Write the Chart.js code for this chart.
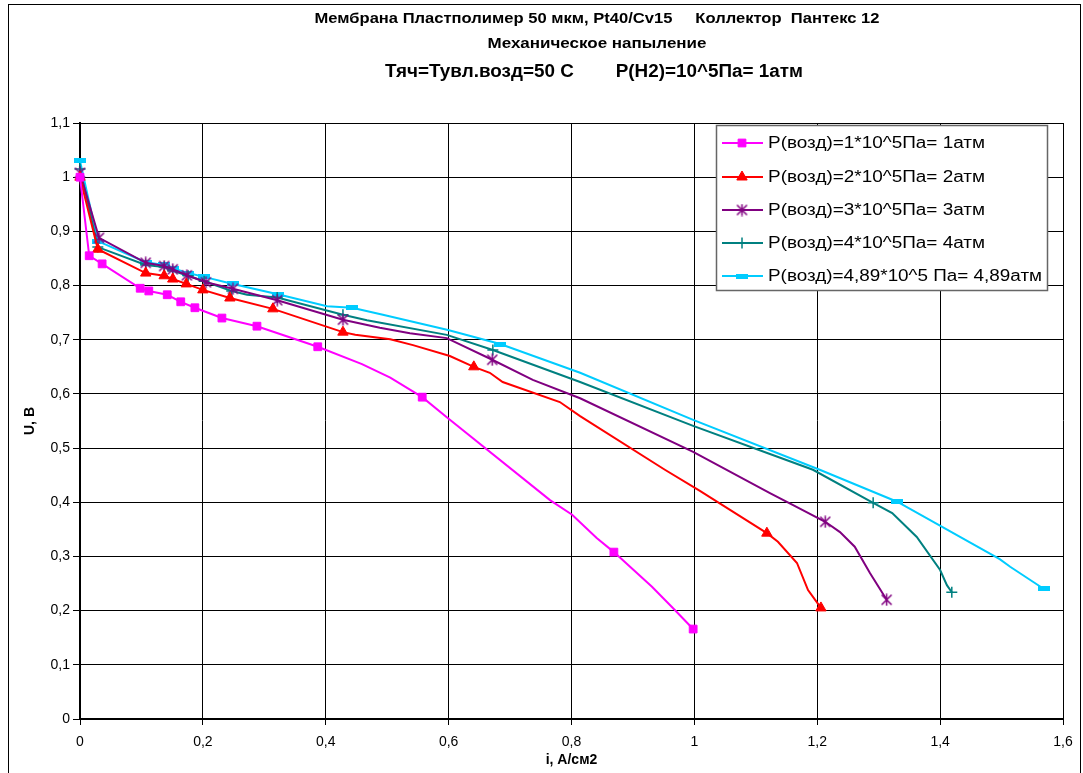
<!DOCTYPE html>
<html><head><meta charset="utf-8">
<script src="https://cdn.jsdelivr.net/npm/chart.js@4.4.0/dist/chart.umd.min.js"></script>
<style>html,body{margin:0;padding:0;background:#fff;}#wrap{width:1083px;height:773px;}</style>
</head><body><div id="wrap"><canvas id="c" width="1083" height="773"></canvas></div>
<script>
// ---- text ----
const titleLine1 = 'Мембрана Пластполимер 50 мкм, Pt40/Cv15     Коллектор  Пантекс 12';
const titleLine2 = 'Механическое напыление';
const titleLine3 = 'Тяч=Тувл.возд=50 С        P(H2)=10^5Па= 1атм';
const xAxisTitle = 'i, А/см2';
const yAxisTitle = 'U, В';
const seriesNames = [
  'P(возд)=1*10^5Па= 1атм',
  'P(возд)=2*10^5Па= 2атм',
  'P(возд)=3*10^5Па= 3атм',
  'P(возд)=4*10^5Па= 4атм',
  'P(возд)=4,89*10^5 Па= 4,89атм'
];
const xTickLabels = ['0','0,2','0,4','0,6','0,8','1','1,2','1,4','1,6'];
const yTickLabels = ['0','0,1','0,2','0,3','0,4','0,5','0,6','0,7','0,8','0,9','1','1,1'];

// ---- data (i, U, marker flag) ----
const p1X = [0, 0.015, 0.036, 0.098, 0.112, 0.142, 0.164, 0.187, 0.231, 0.288, 0.387, 0.459, 0.505, 0.557, 0.597, 0.765, 0.801, 0.841, 0.869, 0.931, 0.965, 0.998];
const p1Y = [1.0, 0.855, 0.840, 0.795, 0.790, 0.783, 0.770, 0.759, 0.740, 0.725, 0.687, 0.655, 0.630, 0.594, 0.557, 0.404, 0.377, 0.334, 0.308, 0.244, 0.205, 0.166];
const p1M = [1,1,1,1,1,1,1,1,1,1,1,0,0,1,0,0,0,0,1,0,0,1];

const p2X = [0, 0.029, 0.107, 0.137, 0.151, 0.173, 0.200, 0.244, 0.314, 0.428, 0.448, 0.505, 0.542, 0.602, 0.641, 0.667, 0.688, 0.781, 0.814, 0.952, 1.009, 1.118, 1.136, 1.167, 1.185, 1.206];
const p2Y = [1.0, 0.867, 0.823, 0.818, 0.812, 0.803, 0.792, 0.777, 0.757, 0.714, 0.709, 0.701, 0.690, 0.670, 0.650, 0.639, 0.622, 0.585, 0.559, 0.460, 0.421, 0.343, 0.327, 0.288, 0.238, 0.205];
const p2M = [1,1,1,1,1,1,1,1,1,1,0,0,0,0,1,0,0,0,0,0,0,1,0,0,0,1];

const p3X = [0, 0.031, 0.107, 0.137, 0.151, 0.174, 0.205, 0.249, 0.321, 0.428, 0.488, 0.537, 0.597, 0.671, 0.737, 0.814, 0.998, 1.123, 1.167, 1.213, 1.237, 1.261, 1.286, 1.313];
const p3Y = [1.008, 0.888, 0.842, 0.836, 0.830, 0.819, 0.806, 0.794, 0.773, 0.737, 0.722, 0.712, 0.703, 0.663, 0.626, 0.592, 0.493, 0.417, 0.391, 0.364, 0.345, 0.318, 0.269, 0.220];
const p3M = [1,1,1,1,1,1,1,1,1,1,0,0,0,1,0,0,0,0,0,1,0,0,0,1];

const p4X = [0, 0.029, 0.107, 0.137, 0.151, 0.176, 0.202, 0.247, 0.272, 0.321, 0.428, 0.467, 0.597, 0.672, 0.814, 0.998, 1.123, 1.193, 1.291, 1.322, 1.362, 1.400, 1.411, 1.419];
const p4Y = [1.015, 0.871, 0.838, 0.834, 0.827, 0.818, 0.808, 0.790, 0.783, 0.778, 0.746, 0.736, 0.709, 0.681, 0.622, 0.541, 0.489, 0.460, 0.399, 0.380, 0.336, 0.275, 0.247, 0.234];
const p4M = [1,1,1,1,1,1,1,1,0,1,1,0,0,1,0,0,0,0,1,0,0,0,0,1];

const p5X = [0, 0.029, 0.107, 0.137, 0.151, 0.176, 0.202, 0.249, 0.322, 0.402, 0.443, 0.493, 0.599, 0.684, 0.814, 0.998, 1.204, 1.330, 1.497, 1.514, 1.569];
const p5Y = [1.03, 0.882, 0.843, 0.838, 0.832, 0.823, 0.816, 0.803, 0.784, 0.762, 0.759, 0.746, 0.718, 0.692, 0.639, 0.552, 0.460, 0.401, 0.295, 0.281, 0.240];
const p5M = [1,1,1,1,1,1,1,1,1,0,1,0,0,1,0,0,0,1,0,0,1];

const colors = ['#FF00FF', '#FF0000', '#800080', '#008080', '#00CCFF'];

// ---- custom point styles ----
function mkCanvas(w, h, draw) { const c = document.createElement('canvas'); c.width = w; c.height = h; draw(c.getContext('2d')); return c; }
const asterisk = mkCanvas(13, 13, g => {
  g.strokeStyle = colors[2]; g.lineWidth = 1.5; g.beginPath();
  g.moveTo(6.5, 0.5); g.lineTo(6.5, 12.5);
  g.moveTo(1.5, 1.5); g.lineTo(11.5, 11.5);
  g.moveTo(11.5, 1.5); g.lineTo(1.5, 11.5); g.stroke();
});
const dash = mkCanvas(12, 5, g => { g.fillStyle = colors[4]; g.fillRect(0, 0, 12, 5); });
const styles = ['rect', 'triangle', asterisk, 'cross', dash];
const radii = [5.5, 6, 6, 5.5, 6];

function mk(k, xs, ys, ms) {
  return {
    label: seriesNames[k],
    data: xs.map((x, i) => ({ x: x, y: ys[i] })),
    borderColor: colors[k], backgroundColor: colors[k],
    borderWidth: 2, tension: 0, clip: false,
    pointStyle: styles[k],
    pointRadius: ms.map(m => m ? radii[k] : 0),
    pointHoverRadius: ms.map(m => m ? radii[k] : 0),
    pointBorderWidth: k === 3 ? 1.5 : 1,
    pointBorderColor: colors[k], pointBackgroundColor: colors[k]
  };
}
const datasets = [mk(0, p1X, p1Y, p1M), mk(1, p2X, p2Y, p2M), mk(2, p3X, p3Y, p3M), mk(3, p4X, p4Y, p4M), mk(4, p5X, p5Y, p5M)];

function fitText(ctx, text, cx, y, font, target) {
  ctx.save(); ctx.font = font;
  const w = ctx.measureText(text).width;
  ctx.translate(cx, y); ctx.scale(target / w, 1);
  ctx.textAlign = 'center'; ctx.fillText(text, 0, 0); ctx.restore();
}

const decor = {
  id: 'decor',
  beforeDraw(chart) { const c = chart.ctx; c.save(); c.fillStyle = '#fff'; c.fillRect(0, 0, chart.width, chart.height); c.restore(); },
  afterDraw(chart) {
    const c = chart.ctx;
    c.save();
    c.fillStyle = '#000'; c.textBaseline = 'alphabetic';
    fitText(c, titleLine1, 597, 23, "bold 14px 'Liberation Sans'", 565);
    fitText(c, titleLine2, 597, 48, "bold 14px 'Liberation Sans'", 219);
    fitText(c, titleLine3, 594, 77, "bold 18px 'Liberation Sans'", 418);
    // legend
    const L = 716, T = 125, R = 1048, B = 291;
    c.fillStyle = '#fff'; c.fillRect(L, T, R - L, B - T);
    c.strokeStyle = '#666'; c.lineWidth = 1.5; c.strokeRect(L + 0.5, T + 0.5, R - L - 1, B - T - 1);
    const rows = [143, 177, 210, 243, 276];
    const textW = [217, 217, 217, 217, 274];
    for (let k = 0; k < 5; k++) {
      const y = rows[k];
      c.strokeStyle = colors[k]; c.fillStyle = colors[k]; c.lineWidth = 2;
      c.beginPath(); c.moveTo(722, y); c.lineTo(763, y); c.stroke();
      c.lineWidth = k === 3 ? 1.5 : 1;
      Chart.helpers.drawPoint(c, { pointStyle: styles[k], radius: radii[k], borderWidth: k === 3 ? 1.5 : 1, rotation: 0 }, 742, y);
      c.fillStyle = '#000'; c.font = "16px 'Liberation Sans'"; c.textBaseline = 'middle'; c.textAlign = 'left';
      const w = c.measureText(seriesNames[k]).width;
      c.save(); c.translate(768, y + 1); c.scale(textW[k] / w, 1); c.fillText(seriesNames[k], 0, 0); c.restore();
    }
    // outer frame
    c.strokeStyle = '#000'; c.lineWidth = 1;
    c.strokeRect(8.5, 4.5, 1072, 770);
    c.restore();
  }
};

const tickFont = { family: 'Liberation Sans', size: 14 };
new Chart(document.getElementById('c'), {
  type: 'line',
  data: { datasets: datasets },
  options: {
    responsive: false, animation: false, devicePixelRatio: 1,
    layout: { padding: { top: 123, right: 20, left: 0, bottom: 0 } },
    plugins: { legend: { display: false }, tooltip: { enabled: false }, title: { display: false } },
    scales: {
      x: {
        type: 'linear', min: 0, max: 1.6,
        ticks: { stepSize: 0.2, autoSkip: false, maxRotation: 0, padding: 9, color: '#000', font: tickFont,
          callback: (v, i) => xTickLabels[i] },
        grid: { color: '#000', lineWidth: 1, tickLength: 6, tickColor: '#000' },
        border: { color: '#000', width: 2 },
        title: { display: true, text: xAxisTitle, color: '#000', font: { family: 'Liberation Sans', size: 14, weight: 'bold' }, padding: { top: 0, bottom: 4 } },
        afterFit(s) { s.height = 54; }
      },
      y: {
        type: 'linear', min: 0, max: 1.1,
        ticks: { stepSize: 0.1, autoSkip: false, padding: 3, color: '#000', font: tickFont,
          callback: (v, i) => yTickLabels[i] },
        grid: { color: '#000', lineWidth: 1, tickLength: 7, tickColor: '#000' },
        border: { color: '#000', width: 2 },
        title: { display: true, text: yAxisTitle, color: '#000', font: { family: 'Liberation Sans', size: 14, weight: 'bold' }, padding: { top: 22, bottom: 0 } },
        afterFit(s) { s.width = 80; }
      }
    }
  },
  plugins: [decor]
});
</script>
</body></html>
